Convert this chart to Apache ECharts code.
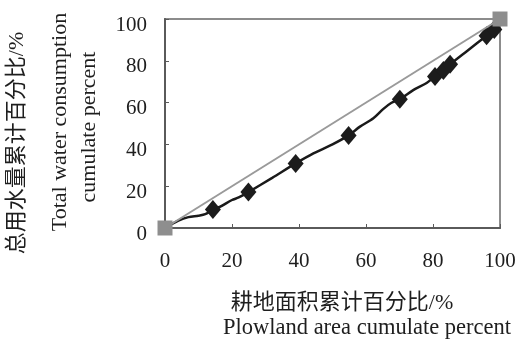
<!DOCTYPE html>
<html>
<head>
<meta charset="utf-8">
<script src="https://cdn.jsdelivr.net/npm/echarts@6/dist/echarts.min.js"></script>
<style>
  html, body { margin: 0; padding: 0; background: #fff; }
  #chart { width: 522px; height: 342px; }
</style>
</head>
<body>
<div id="chart"></div>
<script>
// Cumulative curve of water use vs. plowland area (Lorenz-style)
const curvePoints = [
  [0, 0], [4, 3.5], [7, 5.2], [10, 5.9], [12, 6.6], [14.3, 8.8],
  [16.5, 10.2], [20, 13.4], [22, 14.6], [24.9, 17.2], [32, 24], [39, 30.9],
  [44.3, 35.7], [50, 40], [54.8, 44.3], [58.2, 48.5], [62.2, 52.5],
  [65.2, 57], [67.5, 59.8], [70.1, 61.6], [74.1, 66], [78.1, 69.4],
  [80.6, 72.5], [83.1, 75.4], [85.1, 78.3], [90, 84.5], [96, 92], [98.3, 95], [100, 100]
];
// Marked observations on the curve
const markedPoints = [
  [14.3, 8.8], [24.9, 17.2], [39, 30.9], [54.8, 44.3], [70.1, 61.6],
  [80.6, 72.5], [83.1, 75.4], [85.1, 78.3], [96, 92], [98.3, 95]
];
// Line of absolute equality
const equalityLine = [[0, 0], [100, 100]];
const xTicks = [0, 20, 40, 60, 80, 100];
const yTicks = [0, 20, 40, 60, 80, 100];

const serif = "'Liberation Serif', 'Times New Roman', 'Noto Sans CJK SC', serif";
const textColor = '#1e1e1e';

const chart = echarts.init(document.getElementById('chart'));
chart.setOption({
  animation: false,
  backgroundColor: '#ffffff',
  grid: {
    left: 165, right: 22, top: 19, bottom: 114,
    show: true, borderColor: '#8c8c8c', borderWidth: 2
  },
  xAxis: {
    type: 'value', min: xTicks[0], max: xTicks[xTicks.length - 1], interval: 20,
    axisLine: { lineStyle: { color: '#5a5a5a', width: 2 } },
    axisTick: { inside: true, length: 4, lineStyle: { color: '#5a5a5a' } },
    axisLabel: { margin: 23, fontFamily: serif, fontSize: 21, color: textColor },
    splitLine: { show: false }
  },
  yAxis: {
    type: 'value', min: yTicks[0], max: yTicks[yTicks.length - 1], interval: 20,
    axisLine: { lineStyle: { color: '#5a5a5a', width: 2 } },
    axisTick: { inside: true, length: 4, lineStyle: { color: '#5a5a5a' } },
    axisLabel: {
      margin: 18, fontFamily: serif, fontSize: 21, color: textColor,
      verticalAlign: 'top', lineHeight: 12
    },
    splitLine: { show: false }
  },
  series: [
    {
      type: 'line', data: curvePoints, smooth: 0.3, showSymbol: false,
      lineStyle: { color: '#1a1a1a', width: 2.5 }, z: 3
    },
    {
      type: 'scatter', data: markedPoints, symbol: 'diamond', symbolSize: [16, 19],
      itemStyle: { color: '#1c1c1c', opacity: 1 }, z: 4
    },
    {
      type: 'line', data: equalityLine, symbol: 'rect', symbolSize: 15, showSymbol: true,
      lineStyle: { color: '#9a9a9a', width: 2 },
      itemStyle: { color: '#8e8e8e', opacity: 1 }, z: 5
    }
  ],
  graphic: [
    {
      type: 'text', x: 342, y: 303,
      style: { text: '耕地面积累计百分比/%', font: '22px ' + serif, fill: textColor, textAlign: 'center', textVerticalAlign: 'middle' }
    },
    {
      type: 'text', x: 367, y: 328,
      style: { text: 'Plowland area cumulate percent', font: '22.5px ' + serif, fill: textColor, textAlign: 'center', textVerticalAlign: 'middle' }
    },
    {
      type: 'text', x: 17, y: 143, rotation: Math.PI / 2,
      style: { text: '总用水量累计百分比/%', font: '22px ' + serif, fill: textColor, textAlign: 'center', textVerticalAlign: 'middle' }
    },
    {
      type: 'text', x: 60, y: 122, rotation: Math.PI / 2,
      style: { text: 'Total water consumption', font: '22px ' + serif, fill: textColor, textAlign: 'center', textVerticalAlign: 'middle' }
    },
    {
      type: 'text', x: 89, y: 127, rotation: Math.PI / 2,
      style: { text: 'cumulate percent', font: '22px ' + serif, fill: textColor, textAlign: 'center', textVerticalAlign: 'middle' }
    }
  ]
});
</script>
</body>
</html>
